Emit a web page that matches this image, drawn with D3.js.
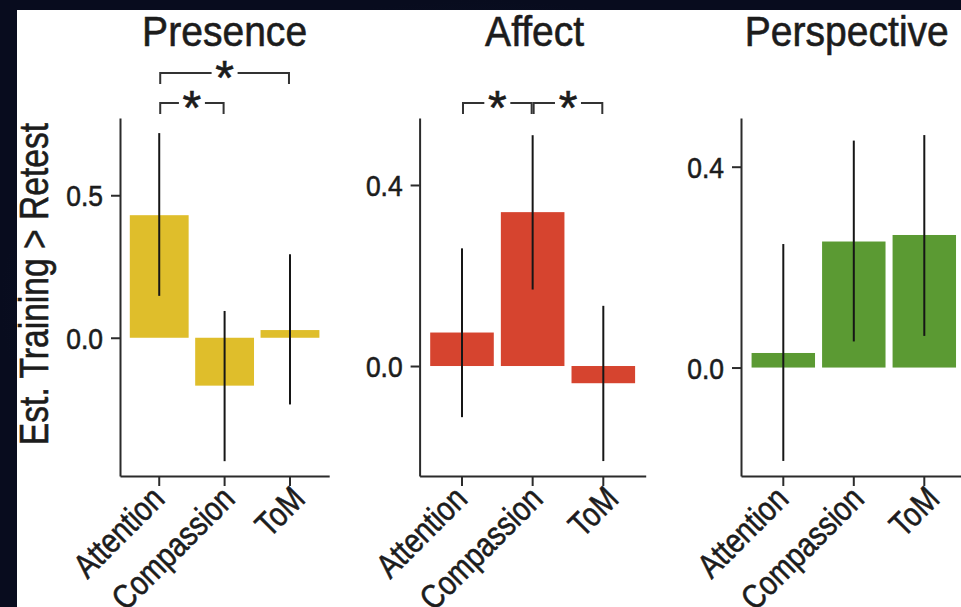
<!DOCTYPE html>
<html>

<head>
    <meta charset="utf-8" />
    <title>training effects</title>
    <script src="https://cdn.jsdelivr.net/npm/d3@7"></script>
</head>

<body>
    <style>
        html,
        body {
            margin: 0;
            padding: 0;
            background: #0b1026;
        }

        svg {
            display: block;
        }

        text {
            font-family: "Liberation Sans", Arial, Helvetica, sans-serif;
            fill: #1c1c1c;
            stroke: #1c1c1c;
            stroke-width: 0.6px;
        }

        .axis path,
        .axis line {
            stroke: #2b2b2b;
            stroke-width: 2px;
        }

        .bracket {
            fill: none;
            stroke: #333;
            stroke-width: 2px;
        }
    </style>
    <div id="container"></div>
    <script>
        // values
        const categories = ["Attention", "Compassion", "ToM"];
        const panelTitles = ["Presence", "Affect", "Perspective"];

        const presenceEst = [0.43, -0.168, 0.027];
        const presenceLow = [0.147, -0.433, -0.234];
        const presenceHigh = [0.718, 0.094, 0.293];

        const affectEst = [0.074, 0.340, -0.038];
        const affectLow = [-0.113, 0.169, -0.210];
        const affectHigh = [0.260, 0.510, 0.133];

        const perspectiveEst = [0.029, 0.251, 0.264];
        const perspectiveLow = [-0.186, 0.052, 0.063];
        const perspectiveHigh = [0.246, 0.452, 0.463];

        const presenceTicks = [0.0, 0.5];
        const affectTicks = [0.0, 0.4];
        const perspectiveTicks = [0.0, 0.4];

        // pairs of category indexes marked with *
        const presenceSig = [[0, 2], [0, 1]];
        const affectSig = [[0, 1], [1, 2]];
        const perspectiveSig = [];

        const W = 961, H = 607;
        const plotTop = 118, plotBottom = 476;

        const panels = [
            { title: panelTitles[0], est: presenceEst, lo: presenceLow, hi: presenceHigh, ticks: presenceTicks, sig: presenceSig,
              color: "#dfbe2b", x0: 120, x1: 329.2, ydom: [-0.485, 0.771], sigY: [73, 103], titleShift: 0 },
            { title: panelTitles[1], est: affectEst, lo: affectLow, hi: affectHigh, ticks: affectTicks, sig: affectSig,
              color: "#d6442f", x0: 419.6, x1: 645.7, ydom: [-0.243, 0.548], sigY: [103, 103], titleShift: 2 },
            { title: panelTitles[2], est: perspectiveEst, lo: perspectiveLow, hi: perspectiveHigh, ticks: perspectiveTicks, sig: perspectiveSig,
              color: "#5b9a33", x0: 741, x1: 966.6, ydom: [-0.216, 0.497], sigY: [], titleShift: -7 }
        ];

        const svg = d3.select("#container").append("svg")
            .attr("width", W)
            .attr("height", H);

        // dark backdrop + white sheet
        const defs = svg.append("defs");
        const grad = defs.append("radialGradient").attr("id", "bg");
        grad.append("stop").attr("offset", "0%").attr("stop-color", "#16203c");
        grad.append("stop").attr("offset", "100%").attr("stop-color", "#080c1e");
        svg.append("rect").attr("width", W).attr("height", H).attr("fill", "url(#bg)");
        svg.append("rect").attr("x", 17).attr("y", 10).attr("width", W - 17).attr("height", H - 10).attr("fill", "#fff");

        // text helper: condensed look via horizontal scale
        function label(g, str, x, y, size, sx, anchor, rot) {
            return g.append("text")
                .attr("transform", `translate(${x},${y}) rotate(${rot || 0}) scale(${sx},1)`)
                .attr("text-anchor", anchor)
                .attr("font-size", size)
                .text(str);
        }

        label(svg, "Est. Training > Retest", 48, 284, 41, 0.82, "middle", -90);

        panels.forEach(function(p) {
            const g = svg.append("g");

            const x = d3.scaleBand()
                .domain(categories)
                .range([p.x0, p.x1])
                .paddingInner(0.1)
                .paddingOuter(0.15);

            const y = d3.scaleLinear()
                .domain(p.ydom)
                .range([plotBottom, plotTop]);

            const cx = function(i) { return x(categories[i]) + x.bandwidth() / 2; };

            // bars
            g.selectAll(".bar")
                .data(p.est)
                .enter()
                .append("rect")
                .attr("class", "bar")
                .attr("x", function(d, i) { return x(categories[i]); })
                .attr("width", x.bandwidth())
                .attr("y", function(d) { return y(Math.max(0, d)); })
                .attr("height", function(d) { return Math.abs(y(d) - y(0)); })
                .attr("fill", p.color);

            // error bars
            g.selectAll(".err")
                .data(p.est)
                .enter()
                .append("line")
                .attr("class", "err")
                .attr("x1", function(d, i) { return cx(i); })
                .attr("x2", function(d, i) { return cx(i); })
                .attr("y1", function(d, i) { return y(p.lo[i]); })
                .attr("y2", function(d, i) { return y(p.hi[i]); })
                .attr("stroke", "#161616")
                .attr("stroke-width", 2);

            // y axis
            g.append("g")
                .attr("class", "axis")
                .attr("transform", `translate(${p.x0},0)`)
                .call(d3.axisLeft(y).tickValues(p.ticks).tickSize(9).tickSizeOuter(0).tickFormat(""));
            p.ticks.forEach(function(t) {
                label(g, d3.format(".1f")(t), p.x0 - 17, y(t) + 11, 30, 0.88, "end");
            });

            // x axis
            g.append("g")
                .attr("class", "axis")
                .attr("transform", `translate(0,${plotBottom})`)
                .call(d3.axisBottom(x).tickSize(10).tickSizeOuter(0).tickFormat(""));
            categories.forEach(function(c, i) {
                label(g, c, cx(i) + 7 + 5 * i, 501, 34, 0.83, "end", -45);
            });

            // title
            label(g, p.title, (p.x0 + p.x1) / 2 + p.titleShift, 46, 42, 0.93, "middle");

            // significance brackets
            p.sig.forEach(function(s, k) {
                const a = cx(s[0]) + 1, b = cx(s[1]) - 1;
                const ly = p.sigY[k];
                const mid = (a + b) / 2, gap = 13;
                g.append("path")
                    .attr("class", "bracket")
                    .attr("d", `M${a},${ly + 11}V${ly}H${mid - gap}M${mid + gap},${ly}H${b}V${ly + 11}`);
                label(g, "*", mid, ly + 21, 48, 1, "middle");
            });
        });
    </script>
</body>

</html>
